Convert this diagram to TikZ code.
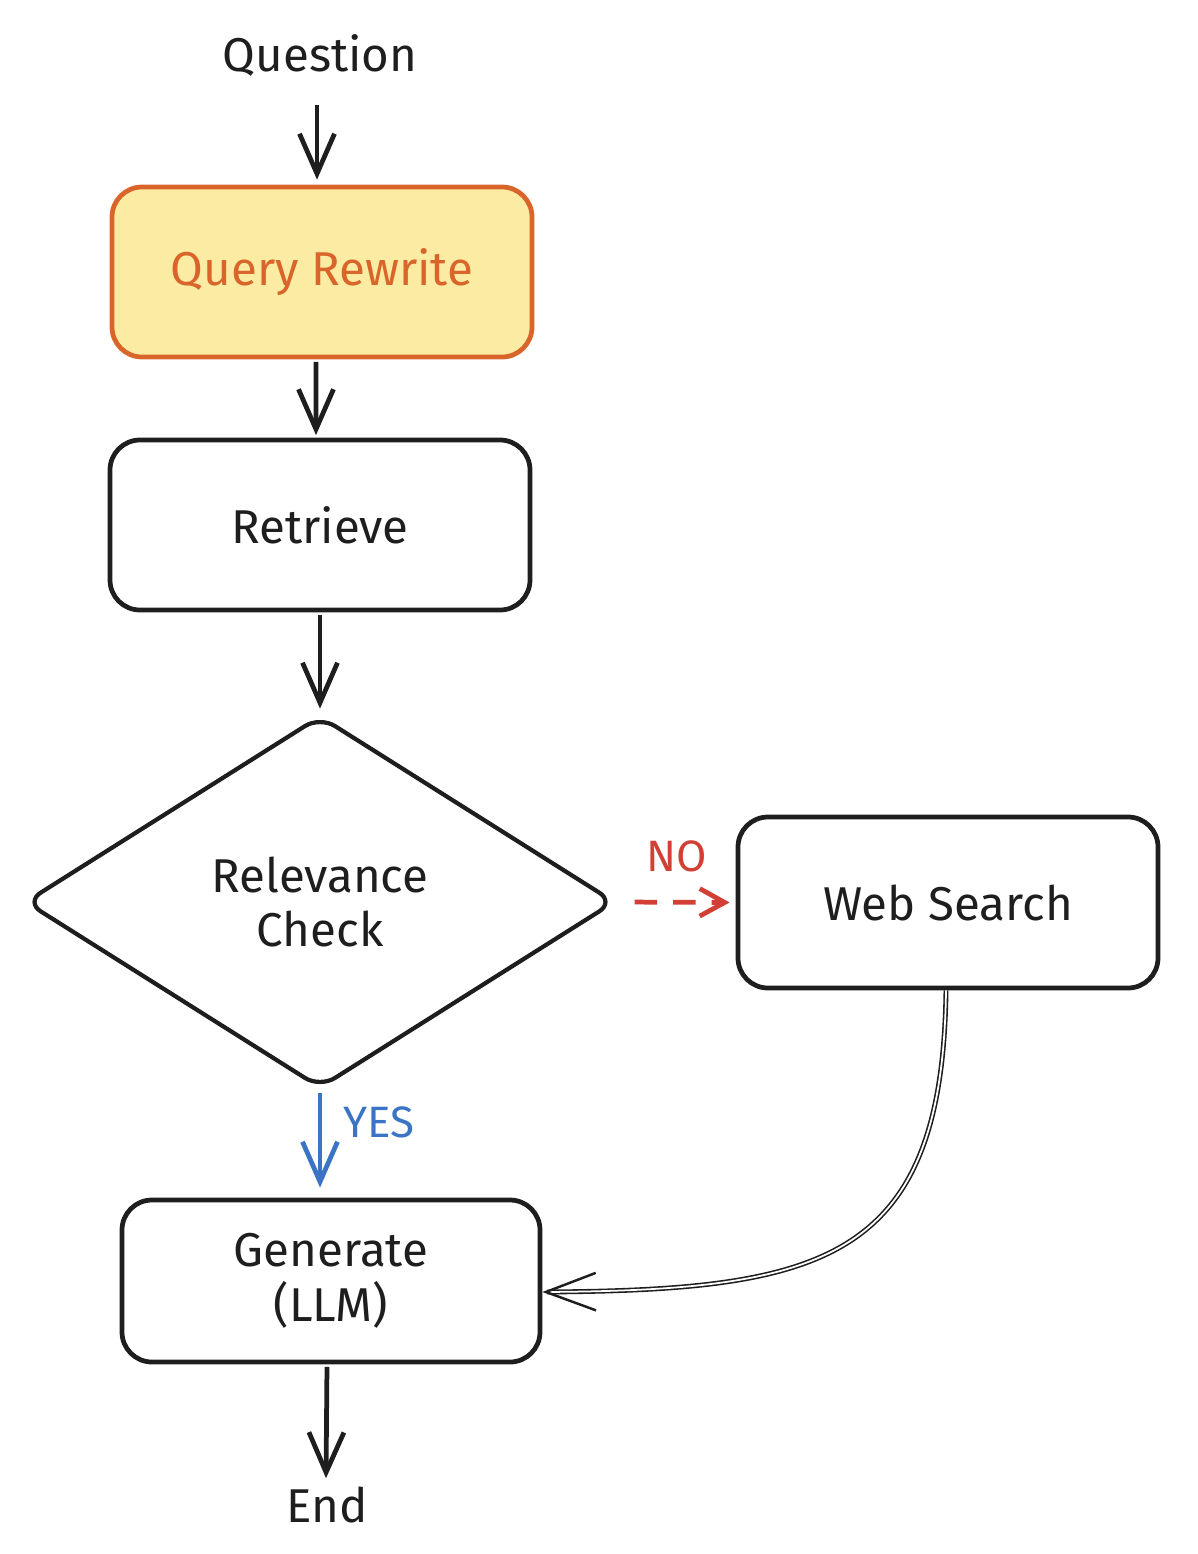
\documentclass[tikz,border=0pt]{standalone}
\usepackage{fontspec}
\setmainfont{Fira Sans}
\usepackage{tikz}
\usetikzlibrary{arrows.meta,positioning,shapes.geometric}
\definecolor{rewriteorange}{HTML}{D9652B}
\definecolor{rewritefill}{HTML}{FBEBA3}
\definecolor{noRed}{HTML}{D23F35}
\definecolor{yesBlue}{HTML}{3B74C4}
\definecolor{inkblack}{HTML}{1E1E1E}

\begin{document}
\begin{tikzpicture}[
    every node/.style={font=\fontsize{27}{31}\selectfont, text=inkblack},
    flowbox/.style={draw=inkblack, line width=2.7pt, rounded corners=0.6cm,
        minimum width=8.4cm, minimum height=3.4cm, align=center},
    arr/.style={draw=inkblack, line width=2.7pt,
        -{Straight Barb[length=0.8cm, width=0.7cm, line width=2.7pt]}},
    lbl/.style={font=\fontsize{25}{29}\selectfont}
  ]
    \useasboundingbox (0,0) rectangle (23.96,-31.08);

    % Start and end texts
    \node (question) at (6.4,-1.1) {Question};
    \node (end) at (6.54,-30.1) {End};

    % Main column
    \node[flowbox, draw=rewriteorange, fill=rewritefill, text=rewriteorange] (rewrite) at (6.44,-5.44) {Query Rewrite};
    \node[flowbox] (retrieve) at (6.4,-10.5) {Retrieve};
    \node[diamond, draw=inkblack, line width=2.4pt, rounded corners=0.35cm,
        minimum width=11.8cm, minimum height=7.45cm, align=center] (check) at (6.4,-18.04) {Relevance\\Check};
    \node[flowbox, minimum height=3.24cm, minimum width=8.36cm] (generate) at (6.62,-25.62) {Generate\\(LLM)};

    % Side branch
    \node[flowbox, minimum height=3.42cm] (websearch) at (18.96,-18.05) {Web Search};

    % Straight connectors
    \draw[arr, shorten <=0.45cm, shorten >=0.1cm] (question.south -| rewrite.north) ++(-0.1,0) -- ([xshift=-0.1cm]rewrite.north);
    \draw[arr, shorten <=0.05cm, shorten >=0.05cm] ([xshift=-0.12cm]rewrite.south) -- ([xshift=-0.08cm]retrieve.north);
    \draw[arr, shorten <=0.05cm, shorten >=0.1cm] (retrieve.south) -- (check.north);
    \draw[arr, shorten <=0.05cm, shorten >=0.05cm] ([xshift=-0.08cm]generate.south) -- ([xshift=-0.02cm]end.north);

    % Decision outcomes
    \draw[arr, draw=noRed, dash pattern=on 0.45cm off 0.32cm,
        -{Straight Barb[length=0.5cm, width=0.55cm, line width=2.7pt]},
        shorten <=0.35cm, shorten >=0.12cm] (check.east) -- (websearch.west)
        node[midway, above=0.45cm, lbl, text=noRed] (nolabel) {NO};
    \draw[arr, draw=yesBlue, shorten <=0.06cm, shorten >=0.2cm] (check.south) -- (generate.north -| check.south)
        node[pos=0.3, right=0.3cm, lbl, text=yesBlue] (yeslabel) {YES};

    % Web search back to generate
    \draw[inkblack, double=white, double distance=1pt, line width=0.9pt,
        -{Straight Barb[length=1.0cm, width=0.75cm, line width=1.4pt]}]
        ([xshift=-0.04cm]websearch.south) .. controls (18.85,-25.2) and (16.5,-25.8) .. ([yshift=-0.22cm]generate.east);
\end{tikzpicture}
\end{document}
